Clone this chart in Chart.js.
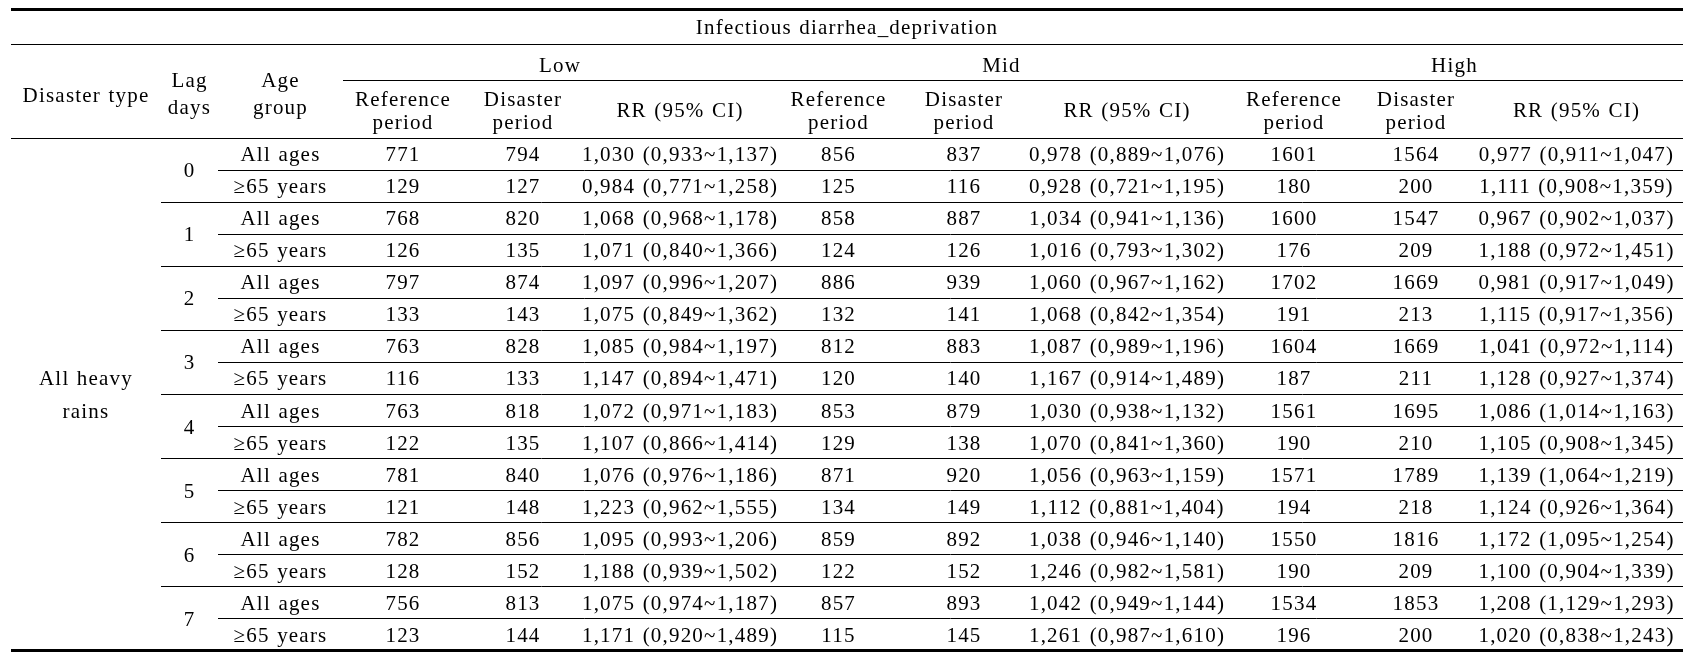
<!DOCTYPE html>
<html>
<head>
<meta charset="utf-8">
<script src="https://cdn.jsdelivr.net/npm/chart.js@4.4.1/dist/chart.umd.min.js"></script>
<style>
html,body{margin:0;padding:0;background:#fff;}
#wrap{width:1708px;height:668px;position:relative;}
</style>
</head>
<body>
<div id="wrap"><canvas id="c" width="1708" height="668"></canvas></div>
<script>
// ---------- DATA ----------
const tableTitle = 'Infectious diarrhea_deprivation';
const disasterType = ['All heavy', 'rains'];
const lagDays = [0, 1, 2, 3, 4, 5, 6, 7];
const ageGroups = ['All ages', '\u226565 years'];
const groups = ['Low', 'Mid', 'High'];

const lowRef = [771,129,768,126,797,133,763,116,763,122,781,121,782,128,756,123];
const lowDis = [794,127,820,135,874,143,828,133,818,135,840,148,856,152,813,144];
const lowRR  = [1.030,0.984,1.068,1.071,1.097,1.075,1.085,1.147,1.072,1.107,1.076,1.223,1.095,1.188,1.075,1.171];
const lowLo  = [0.933,0.771,0.968,0.840,0.996,0.849,0.984,0.894,0.971,0.866,0.976,0.962,0.993,0.939,0.974,0.920];
const lowHi  = [1.137,1.258,1.178,1.366,1.207,1.362,1.197,1.471,1.183,1.414,1.186,1.555,1.206,1.502,1.187,1.489];

const midRef = [856,125,858,124,886,132,812,120,853,129,871,134,859,122,857,115];
const midDis = [837,116,887,126,939,141,883,140,879,138,920,149,892,152,893,145];
const midRR  = [0.978,0.928,1.034,1.016,1.060,1.068,1.087,1.167,1.030,1.070,1.056,1.112,1.038,1.246,1.042,1.261];
const midLo  = [0.889,0.721,0.941,0.793,0.967,0.842,0.989,0.914,0.938,0.841,0.963,0.881,0.946,0.982,0.949,0.987];
const midHi  = [1.076,1.195,1.136,1.302,1.162,1.354,1.196,1.489,1.132,1.360,1.159,1.404,1.140,1.581,1.144,1.610];

const highRef = [1601,180,1600,176,1702,191,1604,187,1561,190,1571,194,1550,190,1534,196];
const highDis = [1564,200,1547,209,1669,213,1669,211,1695,210,1789,218,1816,209,1853,200];
const highRR  = [0.977,1.111,0.967,1.188,0.981,1.115,1.041,1.128,1.086,1.105,1.139,1.124,1.172,1.100,1.208,1.020];
const highLo  = [0.911,0.908,0.902,0.972,0.917,0.917,0.972,0.927,1.014,0.908,1.064,0.926,1.095,0.904,1.129,0.838];
const highHi  = [1.047,1.359,1.037,1.451,1.049,1.356,1.114,1.374,1.163,1.345,1.219,1.364,1.254,1.339,1.293,1.243];

// ---------- LAYOUT (not data) ----------
const colEdges = [0,150,207,332,452,572,766,889,1017,1215,1351,1459,1672];
const Y_TOP = -4.03, Y_TITLE_LINE = -2.94, Y_GROUP_LINE = -1.81;
const FONT = '21px "Liberation Serif", "DejaVu Serif", serif';
const TEXT_DY = 2;

const fmt = v => v.toFixed(3).replace('.', ',');
const rrText = (r, lo, hi) => fmt(r) + ' (' + fmt(lo) + '~' + fmt(hi) + ')';

const groupData = [
  {ref: lowRef, dis: lowDis, rr: lowRR, lo: lowLo, hi: lowHi},
  {ref: midRef, dis: midDis, rr: midRR, lo: midLo, hi: midHi},
  {ref: highRef, dis: highDis, rr: highRR, lo: highLo, hi: highHi}
];

// cell anchor points (column position, row index) for the library's scales
const cellPoints = [];
lagDays.forEach((d, li) => ageGroups.forEach((a, ai) => {
  cellPoints.push({x: (colEdges[2] + colEdges[3]) / 2, y: li * 2 + ai + 0.5});
}));

const tablePlugin = {
  id: 'tablePlugin',
  afterDatasetsDraw(chart) {
    const ctx = chart.ctx;
    const xs = chart.scales.x, ys = chart.scales.y;
    const X = v => xs.getPixelForValue(v);
    const Y = v => ys.getPixelForValue(v);
    const cx = i => X((colEdges[i] + colEdges[i + 1]) / 2);
    ctx.save();
    ctx.fillStyle = '#000';
    ctx.strokeStyle = '#000';
    ctx.font = FONT;
    try { ctx.letterSpacing = '1.2px'; ctx.wordSpacing = '1px'; } catch (e) {}
    ctx.textAlign = 'center';
    ctx.textBaseline = 'middle';

    const hline = (yv, x0, x1, w) => {
      ctx.lineWidth = w;
      const py = w % 2 === 1 ? Math.round(Y(yv)) + 0.5 : Math.round(Y(yv));
      ctx.beginPath();
      ctx.moveTo(X(x0), py);
      ctx.lineTo(X(x1), py);
      ctx.stroke();
    };
    const end = colEdges[colEdges.length - 1];
    hline(Y_TOP, 0, end, 3);
    hline(Y_TITLE_LINE, 0, end, 1);
    hline(Y_GROUP_LINE, colEdges[3], end, 1);
    hline(0, 0, end, 1);
    for (let r = 1; r < lagDays.length * ageGroups.length; r++) {
      hline(r, r % 2 === 1 ? colEdges[2] : colEdges[1], end, 1);
    }
    hline(lagDays.length * ageGroups.length, 0, end, 3);

    const text = (t, px, yv) => ctx.fillText(t, px, Y(yv) + TEXT_DY);
    // header
    text(tableTitle, X(end / 2), -3.47);
    text('Disaster type', cx(0), -1.37);
    text('Lag', cx(1), -1.84);
    text('days', cx(1), -0.97);
    text('Age', cx(2), -1.84);
    text('group', cx(2), -0.97);
    groups.forEach((g, gi) => {
      const c0 = 3 + gi * 3;
      text(g, X((colEdges[c0] + colEdges[c0 + 3]) / 2), -2.31);
      text('Reference', cx(c0), -1.22);
      text('period', cx(c0), -0.53);
      text('Disaster', cx(c0 + 1), -1.22);
      text('period', cx(c0 + 1), -0.53);
      text('RR (95% CI)', cx(c0 + 2), -0.88);
    });
    // body
    const nRows = lagDays.length * ageGroups.length;
    text(disasterType[0], cx(0), nRows / 2 - 0.5);
    text(disasterType[1], cx(0), nRows / 2 + 0.5);
    lagDays.forEach((d, li) => text(String(d), cx(1), li * 2 + 1));
    const pts = chart.data.datasets[0].data;
    pts.forEach((p, r) => {
      text(ageGroups[r % 2], X(p.x), p.y);
      groupData.forEach((g, gi) => {
        const c0 = 3 + gi * 3;
        text(String(g.ref[r]), cx(c0), p.y);
        text(String(g.dis[r]), cx(c0 + 1), p.y);
        text(rrText(g.rr[r], g.lo[r], g.hi[r]), cx(c0 + 2), p.y);
      });
    });
    ctx.restore();
  }
};

new Chart(document.getElementById('c'), {
  type: 'scatter',
  data: {datasets: [{data: cellPoints, pointRadius: 0, pointHoverRadius: 0, showLine: false}]},
  options: {
    responsive: false,
    animation: false,
    devicePixelRatio: 1,
    events: [],
    layout: {padding: {left: 11, right: 25, top: 9, bottom: 18}},
    scales: {
      x: {type: 'linear', min: 0, max: 1672, display: false},
      y: {type: 'linear', min: Y_TOP, max: 16, reverse: true, display: false}
    },
    plugins: {legend: {display: false}, tooltip: {enabled: false}, title: {display: false}}
  },
  plugins: [tablePlugin]
});
</script>
</body>
</html>
